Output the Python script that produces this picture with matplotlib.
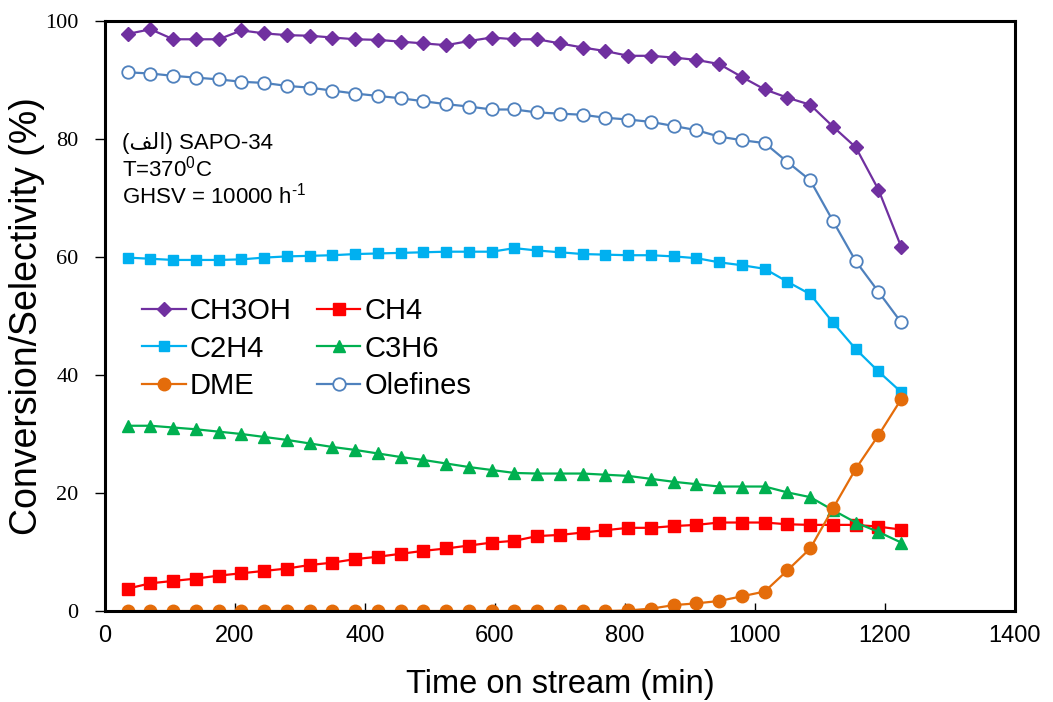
import matplotlib
matplotlib.use("Agg")
import matplotlib.pyplot as plt

plt.rcParams['font.family'] = ['Liberation Sans', 'DejaVu Sans']
plt.rcParams['mathtext.fontset'] = 'custom'
plt.rcParams['mathtext.rm'] = 'Liberation Sans'
plt.rcParams['mathtext.it'] = 'Liberation Sans:italic'

time_min = [35, 70, 105, 140, 175, 210, 245, 280, 315, 350, 385, 420, 455, 490, 525,
            560, 595, 630, 665, 700, 735, 770, 805, 840, 875, 910, 945, 980, 1015,
            1050, 1085, 1120, 1155, 1190, 1225]

ch3oh = [97.8, 98.6, 96.9, 96.9, 96.9, 98.4, 97.9, 97.6, 97.5, 97.2,
         96.9, 96.8, 96.5, 96.2, 95.9, 96.6, 97.2, 96.9, 96.9, 96.2,
         95.5, 94.9, 94.1, 94.1, 93.8, 93.4, 92.7, 90.5, 88.4, 87.0,
         85.8, 82.1, 78.6, 71.4, 61.7]
ch4 = [3.8, 4.7, 5.1, 5.5, 6.0, 6.4, 6.8, 7.2, 7.8, 8.2,
       8.8, 9.2, 9.7, 10.2, 10.6, 11.1, 11.6, 11.9, 12.7, 12.9,
       13.3, 13.7, 14.1, 14.1, 14.4, 14.6, 15.0, 15.0, 15.0, 14.7,
       14.6, 14.6, 14.6, 14.3, 13.8]
c2h4 = [59.9, 59.7, 59.5, 59.5, 59.5, 59.6, 59.9, 60.1, 60.2, 60.3,
        60.5, 60.6, 60.7, 60.8, 60.9, 60.9, 60.9, 61.5, 61.1, 60.8,
        60.5, 60.4, 60.3, 60.3, 60.1, 59.8, 59.1, 58.6, 58.0, 55.8,
        53.7, 48.9, 44.4, 40.6, 37.1]
c3h6 = [31.4, 31.4, 31.1, 30.8, 30.4, 30.0, 29.5, 29.0, 28.4, 27.8,
        27.3, 26.7, 26.1, 25.6, 25.0, 24.4, 23.9, 23.4, 23.3, 23.3,
        23.3, 23.1, 22.9, 22.4, 21.9, 21.5, 21.1, 21.1, 21.1, 20.1,
        19.3, 17.1, 15.0, 13.4, 11.6]
dme = [0, 0, 0, 0, 0, 0, 0, 0, 0, 0,
       0, 0, 0, 0, 0, 0, 0, 0, 0, 0,
       0, 0, 0.1, 0.4, 1.0, 1.3, 1.7, 2.5, 3.3, 6.9,
       10.6, 17.4, 24.1, 29.8, 35.9]
olefines = [91.3, 91.1, 90.7, 90.4, 90.1, 89.7, 89.5, 89.0, 88.7, 88.2,
            87.7, 87.3, 86.9, 86.4, 85.9, 85.5, 85.0, 85.0, 84.5, 84.3,
            84.1, 83.6, 83.3, 82.9, 82.2, 81.5, 80.4, 79.8, 79.3, 76.1,
            73.0, 66.1, 59.3, 54.1, 48.9]

x_ticks = [0, 200, 400, 600, 800, 1000, 1200, 1400]
y_ticks = [0, 20, 40, 60, 80, 100]

fig = plt.figure(figsize=(10.53, 7.02), dpi=100)
ax = fig.add_axes([0.0997, 0.1296, 0.8642, 0.8405])

lw = 1.6
h_ch3oh, = ax.plot(time_min, ch3oh, color='#7030A0', marker='D', markersize=7.5, lw=lw, label='CH3OH')
h_ch4, = ax.plot(time_min, ch4, color='#FF0000', marker='s', markersize=8.5, lw=lw, label='CH4')
h_c2h4, = ax.plot(time_min, c2h4, color='#00B0F0', marker='s', markersize=7.5, lw=lw, label='C2H4')
h_c3h6, = ax.plot(time_min, c3h6, color='#00B050', marker='^', markersize=9, lw=lw, label='C3H6')
h_dme, = ax.plot(time_min, dme, color='#E46C0A', marker='o', markersize=9, lw=lw, label='DME')
h_ole, = ax.plot(time_min, olefines, color='#4F81BD', marker='o', markersize=9,
                 markerfacecolor='white', markeredgewidth=1.3, lw=lw, label='Olefines')

ax.set_xlim(0, 1400)
ax.set_ylim(0, 100)
ax.set_xticks(x_ticks)
ax.set_yticks(y_ticks)
ax.tick_params(axis='x', direction='in', length=6, width=1, labelsize=17, pad=10)
ax.tick_params(axis='y', direction='out', length=7, width=1, labelsize=16, pad=12)
for lab in ax.get_yticklabels():
    lab.set_family('Liberation Serif')
for sp in ax.spines.values():
    sp.set_linewidth(2.2)

ax.set_xlabel('Time on stream (min)', fontsize=23.5, labelpad=16)
ax.set_ylabel('Conversion/Selectivity (%)', fontsize=27, labelpad=0)

ax.text(26, 78.3, '(\uFED2\uFEDF\u0627) SAPO-34', fontsize=16, va='baseline')
ax.text(26, 73.6, 'T=370$^{\\text{0}}$C', fontsize=16, va='baseline')
ax.text(26, 69.1, 'GHSV = 10000 h$^{\\text{-1}}$', fontsize=16, va='baseline')

ax.legend(handles=[h_ch3oh, h_c2h4, h_dme, h_ch4, h_c3h6, h_ole], ncol=2,
          loc='upper left', bbox_to_anchor=(0.0245, 0.5565), frameon=False,
          fontsize=21, handlelength=1.5, handletextpad=0.15,
          columnspacing=0.85, labelspacing=0.32, borderpad=0)

fig.savefig('out.png', dpi=100)
